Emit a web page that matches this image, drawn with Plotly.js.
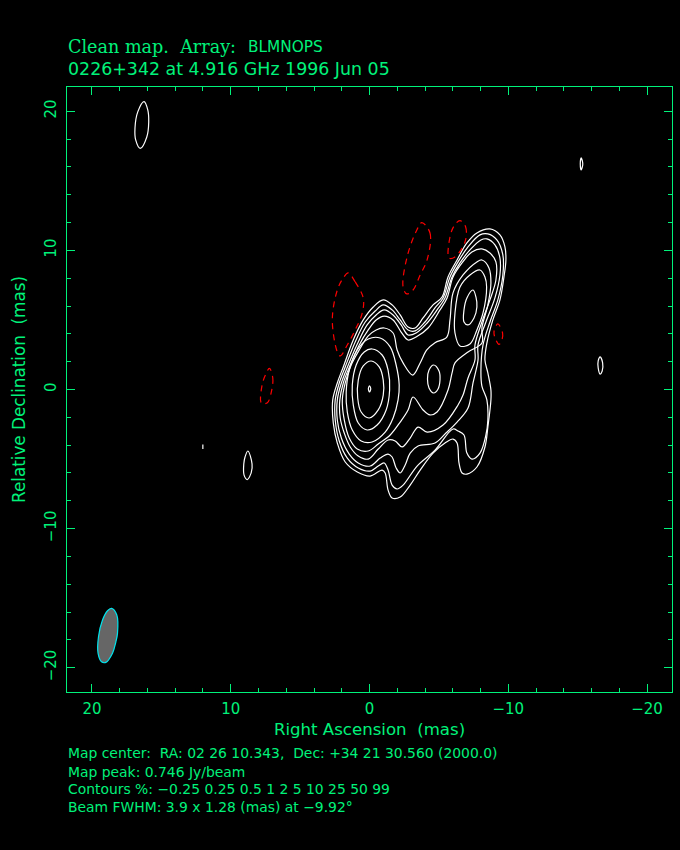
<!DOCTYPE html>
<html>
<head>
<meta charset="utf-8">
<script src="https://cdn.plot.ly/plotly-3.0.1.min.js"></script>
<style>html,body{margin:0;padding:0;background:#000}</style>
</head>
<body>
<div id="chart" style="width:680px;height:850px"></div>
<script>
const c1x=[-8.68,-9.40,-9.76,-9.83,-9.69,-9.40,-8.89,-8.46,-8.32,-8.53,-8.75,-8.75,-8.53,-8.32,-7.74,-7.02,-6.67,-6.45,-6.31,-6.02,-5.44,-4.58,-3.65,-2.93,-2.21,-1.63,-1.34,-1.13,-0.91,-0.05,0.88,1.75,2.32,2.61,2.65,2.32,1.89,1.17,0.45,-0.27,-0.99,-1.63,-2.21,-2.78,-3.29,-3.86,-4.58,-5.23,-5.66,-6.31,-7.02,-7.74];
const c1y=[11.54,11.11,10.25,9.31,8.09,6.44,5.00,3.34,2.12,1.19,-0.04,-0.75,-2.70,-4.13,-5.57,-6.08,-6.00,-5.28,-3.85,-3.56,-3.85,-4.57,-5.79,-6.87,-7.73,-7.80,-7.23,-6.00,-5.79,-6.22,-5.93,-5.21,-3.85,-2.41,-0.75,0.47,1.62,3.56,5.00,5.93,6.44,6.08,5.36,4.49,4.42,5.14,6.08,6.65,8.09,9.31,10.53,11.25];
const c2x=[-8.53,-9.18,-9.61,-9.61,-9.25,-8.68,-8.18,-8.03,-8.10,-8.46,-8.53,-8.39,-7.96,-7.38,-7.02,-6.81,-6.38,-6.02,-4.72,-3.43,-2.42,-1.99,-1.63,-1.34,-1.06,-0.63,-0.05,0.81,1.60,2.18,2.47,2.47,2.18,1.75,1.03,0.31,-0.41,-0.99,-1.63,-2.21,-2.78,-3.29,-4.00,-4.72,-5.30,-5.80,-6.38,-7.10,-7.96];
const c2y=[11.18,10.75,9.67,8.23,6.44,4.85,3.20,1.40,0.25,-0.75,-2.19,-3.27,-4.57,-5.00,-4.57,-3.27,-2.98,-2.84,-4.36,-5.50,-6.87,-7.15,-6.87,-5.79,-5.28,-5.50,-5.86,-5.64,-4.93,-3.70,-2.19,-0.75,0.47,1.62,3.42,4.85,5.64,6.08,5.72,5.00,4.28,4.21,4.85,5.86,6.58,8.09,9.17,10.25,11.11];
const c3x=[-8.46,-9.04,-9.40,-9.40,-9.04,-8.39,-7.82,-7.82,-7.46,-7.10,-6.31,-5.51,-4.72,-3.50,-2.93,-2.57,-2.21,-1.92,-1.63,-1.34,-0.77,-0.05,0.81,1.46,2.03,2.32,2.32,2.03,1.53,0.88,0.17,-0.48,-1.06,-1.70,-2.28,-2.78,-3.36,-4.15,-4.87,-5.44,-5.95,-6.52,-7.24,-8.03];
const c3y=[10.82,10.39,9.45,8.23,6.58,4.85,3.20,2.12,0.47,-1.33,-2.34,-3.13,-3.85,-4.06,-4.57,-5.43,-6.00,-5.64,-4.85,-4.64,-4.93,-5.50,-5.28,-4.64,-3.49,-2.19,-0.75,0.47,1.76,3.27,4.64,5.36,5.72,5.36,4.64,3.92,4.06,4.78,5.72,6.58,8.09,9.10,10.03,10.75];
const c4x=[-8.10,-8.68,-9.11,-9.11,-8.68,-8.10,-7.60,-7.60,-7.10,-6.74,-6.38,-5.30,-4.15,-3.50,-2.93,-2.35,-1.85,-1.34,-0.63,0.09,0.81,1.39,1.82,2.11,2.14,1.89,1.39,0.74,0.09,-0.48,-1.06,-1.70,-2.28,-2.78,-3.36,-4.22,-5.08,-5.59,-6.02,-6.67,-7.38];
const c4y=[10.10,9.81,9.17,7.87,6.44,4.85,3.20,2.12,0.83,-0.40,-1.11,-2.55,-3.06,-2.70,-3.49,-4.13,-3.70,-3.63,-4.28,-5.00,-4.78,-4.13,-3.13,-2.05,-0.75,0.47,1.76,3.20,4.28,5.00,5.28,5.00,4.13,3.56,3.77,4.42,5.72,6.58,8.09,9.10,9.89];
const c5x=[-8.10,-8.61,-8.75,-8.53,-8.10,-8.10,-7.10,-6.16,-5.95,-5.66,-4.87,-4.36,-3.86,-3.14,-2.78,-2.21,-1.49,-0.63,0.09,0.88,1.46,1.82,1.96,1.75,1.32,0.74,0.09,-0.48,-1.06,-1.70,-1.99,-2.42,-3.12,-3.65,-4.13,-4.72,-5.57,-5.80,-6.02,-6.74,-7.74];
const c5y=[9.31,8.74,7.66,6.08,4.42,3.34,2.70,1.91,1.19,-0.04,-1.62,-1.83,-1.47,-0.54,-1.47,-2.34,-3.27,-3.92,-4.42,-4.28,-3.49,-2.19,-0.75,0.47,1.76,2.84,3.85,4.28,4.42,4.06,2.84,1.91,1.04,1.91,2.84,3.36,3.77,5.00,6.94,8.23,9.17];
const nwOuterX=[-7.96,-8.32,-8.44,-8.18,-7.74,-7.24,-6.52,-6.16,-6.16,-6.52,-7.24];
const nwOuterY=[8.59,8.09,7.37,5.50,4.28,3.27,3.13,4.06,5.50,7.37,8.23];
const nwInnerX=[-7.46,-7.67,-7.74,-7.53,-7.10,-6.81,-6.81,-7.02];
const nwInnerY=[7.15,6.65,5.93,5.14,4.64,4.85,5.72,6.58];
const midX=[-4.62,-5.01,-5.08,-4.94,-4.62,-4.29,-4.18,-4.29];
const midY=[1.76,1.33,0.68,0.04,-0.25,0.11,0.75,1.40];
const r10x=[-0.77,-1.49,-1.92,-2.14,-2.06,-1.70,-1.13,-0.19,0.60,1.24,1.60,1.68,1.46,0.88,0.09];
const r10y=[3.70,3.06,1.76,0.32,-0.75,-2.05,-3.06,-3.77,-3.70,-2.91,-1.62,-0.18,1.40,2.84,3.63];
const r25x=[-0.19,-0.91,-1.34,-1.45,-1.20,-0.55,0.17,0.81,1.17,1.24,0.96,0.38];
const r25y=[2.91,2.48,1.40,-0.04,-1.47,-2.55,-2.91,-2.41,-1.11,0.32,1.76,2.70];
const r50x=[-0.12,-0.70,-0.99,-0.99,-0.63,0.02,0.60,0.85,0.81,0.45];
const r50y=[2.05,1.62,0.68,-0.40,-1.47,-2.05,-1.62,-0.61,0.68,1.69];
const peakX=[0,-0.09,0,0.08];
const peakY=[0.27,0.05,-0.18,0.05];
const isoAx=[16.25,15.98,15.91,16.05,16.52,16.85,16.90,16.70];
const isoAy=[20.69,20.10,19.23,18.15,17.33,17.94,18.80,19.95];
const isoBx=[8.77,8.51,8.46,8.65,8.81,9.04,9.06,8.97];
const isoBy=[-4.42,-5.07,-5.64,-6.29,-6.47,-6.15,-5.36,-4.85];
const isoCx=[12.01,12.01];
const isoCy=[-3.95,-4.28];
const isoDx=[-16.62,-16.80,-16.77,-16.62,-16.48,-16.48];
const isoDy=[2.34,1.91,1.33,1.11,1.55,2.05];
const isoEx=[-15.26,-15.37,-15.26,-15.19];
const isoEy=[16.64,16.21,15.78,16.21];
// Negative contours
const negAx=[1.53,1.03,0.45,0.52,1.03,1.60,2.11,2.32,2.68,2.32,1.89];
const negAy=[8.38,7.73,6.58,5.50,4.28,3.20,2.41,2.70,5.00,7.15,8.02];
const negBx=[-3.77,-4.36,-4.15,-3.65,-3.14,-2.69,-2.42,-2.71,-3.41];
const negBy=[11.99,11.25,9.31,8.23,7.15,6.87,7.37,9.53,11.47];
const negCx=[-6.52,-6.93,-6.88,-6.16,-5.73,-5.80,-6.09];
const negCy=[12.14,11.68,10.60,9.53,9.45,10.96,11.75];
const negDx=[-9.25,-9.59,-9.54,-9.33,-9.11,-8.97];
const negDy=[4.71,4.06,3.56,3.24,3.56,4.13];
const negEx=[7.21,6.97,7.07,7.36,7.79,7.74,7.50];
const negEy=[1.52,0.83,-0.16,-0.95,-0.99,0.32,1.04];
// Beam
const beamX=[18.59,18.21,18.16,18.28,18.52,19.00,19.31,19.56,19.53,19.24,18.88];
const beamY=[-15.73,-16.21,-17.51,-18.15,-18.95,-19.61,-19.57,-18.97,-17.77,-16.57,-15.90];
// Axis labels
const tickVals=[20,10,0,-10,-20];
const xTickText=['20','10','0','\u221210','\u221220'];
const yTickText=['20','10','0','\u221210','\u221220'];
const titleBold='Clean map.\u00a0\u00a0Array:';
const titleArray='BLMNOPS';
const titleLine2='0226+342 at 4.916 GHz 1996 Jun 05';
const infoLines=['Map center:\u00a0\u00a0RA: 02 26 10.343,\u00a0\u00a0Dec: +34 21 30.560 (2000.0)','Map peak: 0.746 Jy/beam','Contours %: \u22120.25 0.25 0.5 1 2 5 10 25 50 99','Beam FWHM: 3.9 x 1.28 (mas) at \u22129.92\u00b0'];

const GREEN='#00f27a', FONT='"DejaVu Sans", sans-serif';
const closed=a=>a.concat([a[0]]);
const white=[[c1x,c1y],[c2x,c2y],[c3x,c3y],[c4x,c4y],[c5x,c5y],[nwOuterX,nwOuterY],[nwInnerX,nwInnerY],[midX,midY],[r10x,r10y],[r25x,r25y],[r50x,r50y],[peakX,peakY],[isoAx,isoAy],[isoBx,isoBy],[isoDx,isoDy],[isoEx,isoEy]];
const red=[[negAx,negAy],[negBx,negBy],[negCx,negCy],[negDx,negDy],[negEx,negEy]];
const traces=[];
traces.push({x:closed(beamX),y:closed(beamY),mode:'lines',fill:'toself',fillcolor:'#666666',line:{color:'#00e5ee',width:1.2,shape:'spline',smoothing:1},hoverinfo:'skip'});
white.forEach(p=>traces.push({x:closed(p[0]),y:closed(p[1]),mode:'lines',line:{color:'#ffffff',width:1.2,shape:'spline',smoothing:1},hoverinfo:'skip'}));
traces.push({x:isoCx,y:isoCy,mode:'lines',line:{color:'#ffffff',width:1.2},hoverinfo:'skip'});
red.forEach(p=>traces.push({x:closed(p[0]),y:closed(p[1]),mode:'lines',line:{color:'#ff0000',width:1.2,dash:'6px,5px',shape:'spline',smoothing:1},hoverinfo:'skip'}));

const ann=(text,py,size)=>({text:text,xref:'paper',yref:'paper',x:0,xshift:-1.5,y:1+(86.7-py)/605.6,xanchor:'left',yanchor:'middle',showarrow:false,font:{family:FONT,size:size,color:GREEN}});
const annotations=[
  Object.assign(ann(titleBold,47,15),{font:{family:'"DejaVu Serif", serif',size:17.6,color:GREEN}}),
  Object.assign(ann(titleArray,47,15.3),{x:(247-66.5)/605.5}),
  ann(titleLine2,69,17.4),
  ann(infoLines[0],753,13.9),ann(infoLines[1],772,13.9),ann(infoLines[2],789,13.9),ann(infoLines[3],807,13.9)
];
const axisBase={showgrid:false,zeroline:false,showline:true,linecolor:GREEN,linewidth:1,mirror:'ticks',ticks:'inside',ticklen:8,tickcolor:GREEN,tickwidth:1,tickmode:'array',tickvals:tickVals,tickfont:{family:FONT,size:15,color:GREEN},
  minor:{dtick:2,ticks:'inside',ticklen:4,tickcolor:GREEN,tickwidth:1,showgrid:false}};
const layout={width:680,height:850,paper_bgcolor:'#000',plot_bgcolor:'#000',showlegend:false,
  margin:{l:66.5,r:8,t:86.7,b:157.7,pad:0},
  xaxis:Object.assign({},axisBase,{range:[21.8,-21.8],ticktext:xTickText,ticklabelstandoff:3,title:{text:'Right Ascension\u00a0\u00a0(mas)',font:{family:FONT,size:16.6,color:GREEN},standoff:6}}),
  yaxis:Object.assign({},axisBase,{range:[-21.74,21.74],ticktext:yTickText,tickangle:-90,ticklabelstandoff:4,title:{text:'Relative Declination\u00a0\u00a0(mas)',font:{family:FONT,size:16.8,color:GREEN},standoff:12}}),
  annotations:annotations};
Plotly.newPlot('chart',traces,layout,{displayModeBar:false,staticPlot:true});
</script>
</body>
</html>
